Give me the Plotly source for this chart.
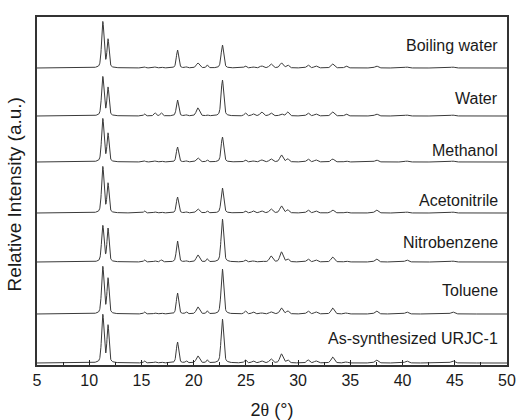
import numpy as np
import plotly.graph_objects as go

# Sample names (top to bottom in the stack)
samples = ["Boiling water", "Water", "Methanol", "Acetonitrile",
           "Nitrobenzene", "Toluene", "As-synthesized URJC-1"]

# Vertical offsets of each pattern (a.u.)
offsets = [297, 249, 203, 152, 103, 51, 2]

# Reflection positions (2θ, degrees) and peak widths (FWHM, degrees)
peak_pos = [11.3, 11.8, 15.3, 16.3, 16.9, 18.45, 19.3, 20.4, 21.3, 22.75,
            24.95, 25.7, 26.5, 27.4, 28.4, 29.0, 30.95, 31.7, 33.3, 34.6,
            37.5, 40.4, 44.8]
peak_fwhm = [0.27, 0.23, 0.2, 0.25, 0.25, 0.26, 0.2, 0.35, 0.2, 0.29,
             0.25, 0.3, 0.35, 0.35, 0.35, 0.3, 0.3, 0.35, 0.35, 0.3,
             0.35, 0.35, 0.4]

# Peak intensities (a.u.)
h_boiling = [46, 28, 1, 1, 1, 18, 1, 5, 3, 23, 2, 1, 2, 4, 5, 3, 3, 2, 4, 2, 2, 1, 1]
h_water = [39, 28, 2, 3, 3, 16, 1, 8, 1, 36, 3, 2, 4, 3, 2, 4, 3, 2, 4, 2, 2, 1, 1]
h_methanol = [43, 28, 1, 1, 1, 15, 1, 4, 2, 25, 2, 1, 2, 3, 7, 3, 3, 2, 3, 1, 2, 1, 1]
h_acetonitrile = [46, 29, 2, 1, 1, 16, 1, 4, 2, 25, 2, 2, 2, 4, 7, 3, 3, 2, 3, 1, 3, 1, 1]
h_nitrobenzene = [36, 33, 2, 1, 2, 21, 1, 7, 3, 43, 2, 1, 1, 6, 10, 3, 3, 2, 5, 1, 3, 2, 1]
h_toluene = [47, 35, 2, 1, 1, 21, 2, 7, 3, 45, 3, 2, 1, 2, 6, 3, 3, 2, 6, 1, 3, 2, 2]
h_assynth = [48, 37, 2, 1, 1, 21, 2, 7, 3, 44, 3, 2, 2, 4, 9, 3, 3, 2, 6, 1, 3, 2, 2]
heights = [h_boiling, h_water, h_methanol, h_acetonitrile,
           h_nitrobenzene, h_toluene, h_assynth]

x = np.arange(5.0, 50.0001, 0.02)


def pattern(hs):
    y = np.zeros_like(x)
    for p, w, h in zip(peak_pos, peak_fwhm, hs):
        g = 0.5 * w
        lor = 1.0 / (1.0 + ((x - p) / g) ** 2)
        gau = np.exp(-np.log(2) * ((x - p) / g) ** 2)
        y += h * (0.4 * lor + 0.6 * gau)
    return y


FONT = "Arial, Liberation Sans, sans-serif"

fig = go.Figure()
for name, off, hs in zip(samples, offsets, heights):
    fig.add_trace(go.Scatter(x=x, y=pattern(hs) + off, mode="lines",
                             line=dict(color="#3a3a3a", width=1),
                             name=name, showlegend=False, hoverinfo="skip"))

label_y = [320, 267, 215, 165, 123, 75, 27]
for name, ly in zip(samples, label_y):
    fig.add_annotation(x=49.35, y=ly, xref="x", yref="y", text=name,
                       showarrow=False, xanchor="right", yanchor="middle",
                       font=dict(family=FONT, size=16, color="#1a1a1a"))

fig.add_annotation(x=-0.047, y=0.49, xref="paper", yref="paper",
                   text="Relative Intensity (a.u.)", textangle=-90,
                   showarrow=False, xanchor="center", yanchor="middle",
                   font=dict(family=FONT, size=19, color="#1a1a1a"))

fig.update_layout(
    width=517, height=420,
    margin=dict(l=37, r=10, t=17, b=55),
    paper_bgcolor="white", plot_bgcolor="white",
    font=dict(family=FONT, color="#1a1a1a"),
    xaxis=dict(range=[5, 50], tickvals=[5, 10, 15, 20, 25, 30, 35, 40, 45, 50],
               ticks="inside", ticklen=5, tickwidth=1.2, tickcolor="#222",
               minor=dict(dtick=2.5, tick0=5, ticks="inside", ticklen=3, tickcolor="#222"),
               showline=True, linecolor="#333", linewidth=2, mirror=True,
               showgrid=False, zeroline=False, automargin=False,
               tickfont=dict(size=16),
               title=dict(text="2<span style='font-family:Liberation Serif, Times New Roman, serif'>θ</span> (°)",
                          font=dict(size=18), standoff=15)),
    yaxis=dict(range=[0, 348], showticklabels=False, ticks="",
               showline=True, linecolor="#333", linewidth=2, mirror=True,
               showgrid=False, zeroline=False, automargin=False),
)

fig.write_html("out.html")
